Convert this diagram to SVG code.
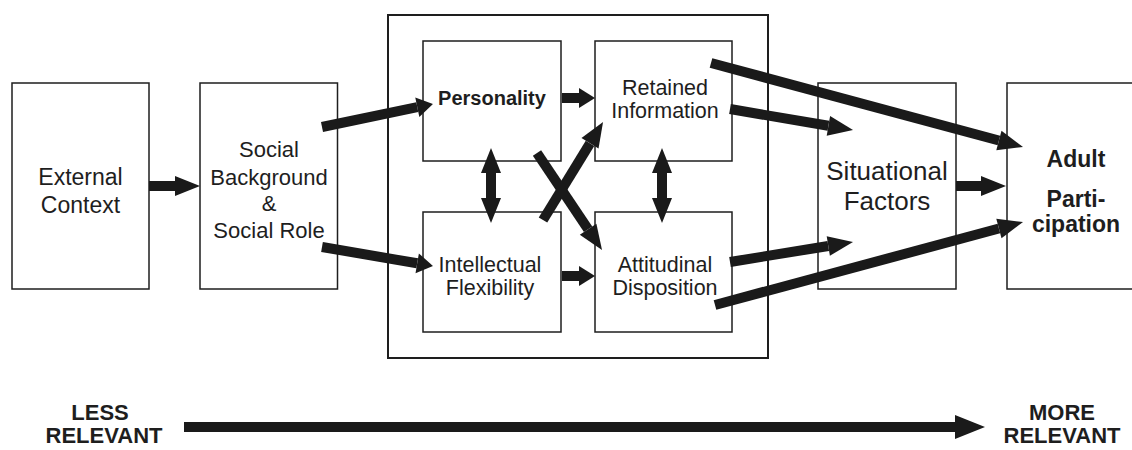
<svg xmlns="http://www.w3.org/2000/svg" width="1132" height="450" viewBox="0 0 1132 450">
  <style>
    .box { fill: #ffffff; stroke: #1e1e1e; stroke-width: 1.5; }
    .frame { fill: none; stroke: #1e1e1e; stroke-width: 2; }
    .lbl { font-family: "Liberation Sans", Arial, sans-serif; fill: #1e1e1e; text-anchor: middle; }
    .bold { font-weight: bold; }
    .conn line { stroke: #1a1a1a; stroke-width: 10; stroke-linecap: butt; fill: none; }
  </style>
  <defs>
    <!-- arrowheads: base sits on the line end, tip points forward -->
    <marker id="head" markerUnits="userSpaceOnUse" markerWidth="26" markerHeight="22" refX="0" refY="10" orient="auto-start-reverse" overflow="visible">
      <path d="M0,0 L25,10 L0,20 Z" fill="#1a1a1a"/>
    </marker>
    <marker id="headShort" markerUnits="userSpaceOnUse" markerWidth="17" markerHeight="22" refX="0" refY="10" orient="auto" overflow="visible">
      <path d="M0,0 L16,10 L0,20 Z" fill="#1a1a1a"/>
    </marker>
    <marker id="headWide" markerUnits="userSpaceOnUse" markerWidth="31" markerHeight="26" refX="0" refY="12" orient="auto" overflow="visible">
      <path d="M0,0 L30,12 L0,24 Z" fill="#1a1a1a"/>
    </marker>
  </defs>

  <rect width="1132" height="450" fill="#ffffff"/>

  <!-- enclosing frame for the four inner factors -->
  <rect class="frame" x="388" y="15" width="380" height="343"/>

  <g id="external-context">
    <rect class="box" x="12" y="83" width="137" height="206"/>
    <text class="lbl" font-size="23" x="80.5" y="185">External</text>
    <text class="lbl" font-size="23" x="80.5" y="213">Context</text>
  </g>

  <g id="social-background">
    <rect class="box" x="200" y="83" width="137.5" height="206"/>
    <text class="lbl" font-size="22" x="269" y="157">Social</text>
    <text class="lbl" font-size="22" x="269" y="185">Background</text>
    <text class="lbl" font-size="22" x="269" y="211">&amp;</text>
    <text class="lbl" font-size="22" x="269" y="238">Social Role</text>
  </g>

  <g id="personality">
    <rect class="box" x="423" y="41" width="138" height="120"/>
    <text class="lbl bold" font-size="20" x="492" y="105">Personality</text>
  </g>

  <g id="retained-information">
    <rect class="box" x="595" y="41" width="137" height="120"/>
    <text class="lbl" font-size="21.5" x="665" y="95">Retained</text>
    <text class="lbl" font-size="21.5" x="665" y="118">Information</text>
  </g>

  <g id="intellectual-flexibility">
    <rect class="box" x="423" y="212" width="138" height="120"/>
    <text class="lbl" font-size="21.5" x="490" y="272">Intellectual</text>
    <text class="lbl" font-size="21.5" x="490" y="295">Flexibility</text>
  </g>

  <g id="attitudinal-disposition">
    <rect class="box" x="595" y="212" width="137" height="120"/>
    <text class="lbl" font-size="21.5" x="665" y="272">Attitudinal</text>
    <text class="lbl" font-size="21.5" x="665" y="295">Disposition</text>
  </g>

  <g id="situational-factors">
    <rect class="box" x="818" y="83" width="138" height="206"/>
    <text class="lbl" font-size="26" x="887" y="180">Situational</text>
    <text class="lbl" font-size="26" x="887" y="210">Factors</text>
  </g>

  <g id="adult-participation">
    <rect class="box" x="1007" y="83" width="140" height="206"/>
    <text class="lbl bold" font-size="23" x="1076" y="167">Adult</text>
    <text class="lbl bold" font-size="23" x="1076" y="207">Parti-</text>
    <text class="lbl bold" font-size="23" x="1076" y="232">cipation</text>
  </g>

  <g id="connectors" class="conn">
    <line x1="149" y1="186" x2="175" y2="186" marker-end="url(#head)"/>
    <line x1="322" y1="127" x2="417.3" y2="107.2" marker-end="url(#headShort)"/>
    <line x1="322" y1="247" x2="417.2" y2="263.3" marker-end="url(#headShort)"/>
    <line x1="562" y1="98" x2="579" y2="98" marker-end="url(#headShort)"/>
    <line x1="562" y1="276" x2="579" y2="276" marker-end="url(#headShort)"/>
    <line x1="491" y1="173" x2="491" y2="198" marker-start="url(#head)" marker-end="url(#head)"/>
    <line x1="662" y1="173" x2="662" y2="198" marker-start="url(#head)" marker-end="url(#head)"/>
    <line x1="543" y1="220" x2="590" y2="143.3" marker-end="url(#head)"/>
    <line x1="537" y1="153" x2="588.1" y2="229.2" marker-end="url(#head)"/>
    <line x1="730" y1="109" x2="828.4" y2="125.8" marker-end="url(#head)"/>
    <line x1="711" y1="63" x2="998.9" y2="140.5" marker-end="url(#head)"/>
    <line x1="730" y1="262" x2="828.3" y2="246" marker-end="url(#head)"/>
    <line x1="715" y1="305" x2="998.9" y2="228.5" marker-end="url(#head)"/>
    <line x1="956" y1="186" x2="981" y2="186" marker-end="url(#head)"/>
    <line x1="184" y1="427" x2="955" y2="427" stroke-width="11" marker-end="url(#headWide)"/>
  </g>

  <g id="relevance-scale">
    <text class="lbl bold" font-size="22" x="100" y="420">LESS</text>
    <text class="lbl bold" font-size="22" x="104" y="443">RELEVANT</text>
    <text class="lbl bold" font-size="22" x="1062" y="420">MORE</text>
    <text class="lbl bold" font-size="22" x="1062" y="443">RELEVANT</text>
  </g>
</svg>
